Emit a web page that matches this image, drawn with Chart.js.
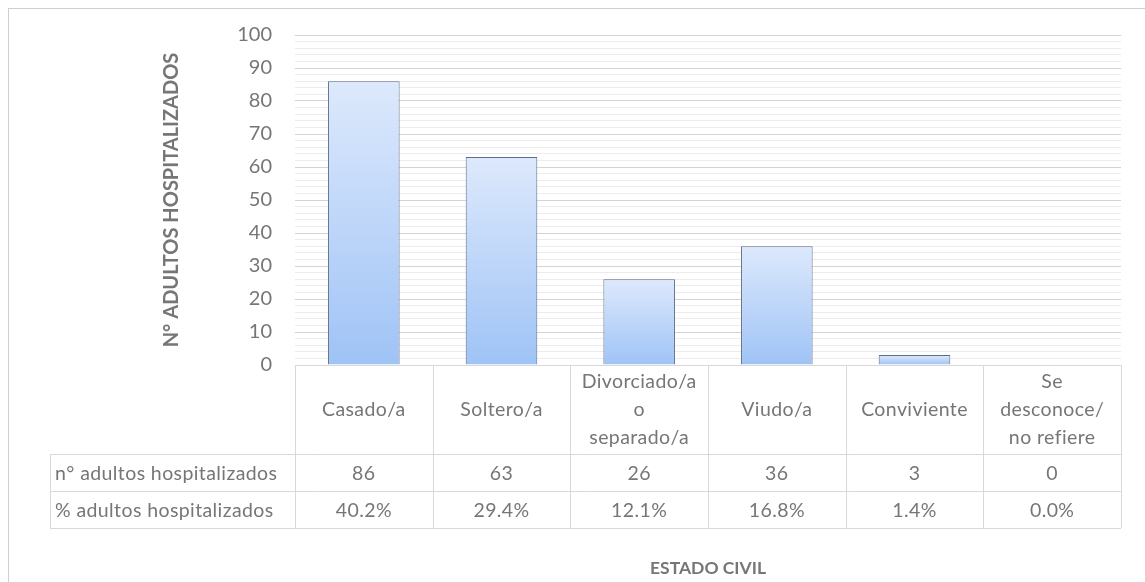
<!DOCTYPE html>
<html>
<head>
<meta charset="utf-8">
<script src="https://cdn.jsdelivr.net/npm/chart.js@4.4.1/dist/chart.umd.min.js"></script>
<style>
  html, body { margin: 0; padding: 0; background: #fff; }
  #wrap { width: 1145px; height: 582px; position: relative; }
</style>
</head>
<body>
<div id="wrap"><canvas id="estadoChart"></canvas></div>
<script>
// datos
const categorias = [
    ['Casado/a'],
    ['Soltero/a'],
    ['Divorciado/a', 'o', 'separado/a'],
    ['Viudo/a'],
    ['Conviviente'],
    ['Se', 'desconoce/', 'no refiere']
];
const nAdultos = [86, 63, 26, 36, 3, 0];
const pctAdultos = ['40.2%', '29.4%', '12.1%', '16.8%', '1.4%', '0.0%'];
const filaNombres = ['n° adultos hospitalizados', '% adultos hospitalizados'];
const yTicks = [0, 10, 20, 30, 40, 50, 60, 70, 80, 90, 100];

const FONT = 'Lato, "Open Sans", sans-serif';
const GRIS = '#767676';

// tabla de datos + marco
const tablaPlugin = {
    id: 'tabla',
    afterDraw(chart) {
        const ctx = chart.ctx;
        const x = chart.scales.x;
        const area = chart.chartArea;
        const colW = (x.getPixelForValue(1) - x.getPixelForValue(0));
        const left = area.left;
        const right = x.getPixelForValue(categorias.length - 1) + colW / 2;
        const tablaIzq = 50;
        const y0 = area.bottom;
        const y1 = y0 + 89;
        const y2 = y1 + 37;
        const y3 = y2 + 37;

        ctx.save();
        ctx.strokeStyle = '#d9d9d9';
        ctx.lineWidth = 1;
        ctx.beginPath();
        [y1, y2, y3].forEach(yy => {
            ctx.moveTo(tablaIzq, Math.round(yy) + 0.5);
            ctx.lineTo(right, Math.round(yy) + 0.5);
        });
        ctx.moveTo(left, Math.round(y0) + 0.5);
        ctx.lineTo(right, Math.round(y0) + 0.5);
        ctx.moveTo(tablaIzq + 0.5, y1);
        ctx.lineTo(tablaIzq + 0.5, y3);
        for (let i = 0; i <= categorias.length; i++) {
            const xx = Math.round(x.getPixelForValue(i) - colW / 2) + 0.5;
            ctx.moveTo(xx, y0);
            ctx.lineTo(xx, y3);
        }
        ctx.stroke();

        ctx.fillStyle = GRIS;
        ctx.font = '19.5px ' + FONT;
        ctx.letterSpacing = '0.4px';
        ctx.textAlign = 'center';
        ctx.textBaseline = 'middle';
        categorias.forEach((lineas, i) => {
            const cx = x.getPixelForValue(i);
            const lh = 28;
            const inicio = (y0 + y1) / 2 - (lineas.length - 1) * lh / 2;
            lineas.forEach((t, k) => ctx.fillText(t, cx, inicio + k * lh));
            ctx.fillText(String(nAdultos[i]), cx, (y1 + y2) / 2 + 1);
            ctx.fillText(pctAdultos[i], cx, (y2 + y3) / 2 + 1);
        });
        ctx.textAlign = 'left';
        ctx.fillText(filaNombres[0], tablaIzq + 5, (y1 + y2) / 2 + 1);
        ctx.fillText(filaNombres[1], tablaIzq + 5, (y2 + y3) / 2 + 1);

        // titulo eje x
        ctx.font = 'bold 17.5px ' + FONT;
        ctx.letterSpacing = '0px';
        ctx.textAlign = 'center';
        ctx.fillText('ESTADO CIVIL', (left + right) / 2, 568);

        // marco exterior
        ctx.strokeStyle = '#c9d1d3';
        ctx.strokeRect(8.5, 8.5, 1160, 600);
        ctx.restore();
    }
};

function degradado(context) {
    const chart = context.chart;
    const y = chart.scales.y;
    if (!chart.chartArea || !y || context.type !== 'data') return '#bcd5f8';
    const v = context.raw || 0;
    const top = y.getPixelForValue(v);
    const base = y.getPixelForValue(0);
    if (base - top < 1) return '#bcd5f8';
    const g = chart.ctx.createLinearGradient(0, top, 0, base);
    g.addColorStop(0, '#dde9fc');
    g.addColorStop(1, '#9fc3f6');
    return g;
}

const ctx = document.getElementById('estadoChart').getContext('2d');
new Chart(ctx, {
    type: 'bar',
    data: {
        labels: categorias.map(c => c.join(' ')),
        datasets: [{
            label: filaNombres[0],
            data: nAdultos,
            backgroundColor: degradado,
            borderColor: '#5b6d87',
            borderWidth: 1,
            borderSkipped: 'bottom',
            barPercentage: 0.52,
            categoryPercentage: 1
        }]
    },
    plugins: [tablaPlugin],
    options: {
        responsive: true,
        maintainAspectRatio: false,
        animation: false,
        layout: { padding: { left: 160, right: 24, top: 35, bottom: 209 } },
        plugins: {
            legend: { display: false },
            tooltip: { enabled: false }
        },
        scales: {
            x: {
                ticks: { display: false },
                grid: { display: false },
                border: { display: false }
            },
            y: {
                min: 0,
                max: 100,
                afterFit(scale) { scale.width = 135; },
                ticks: {
                    stepSize: 2,
                    autoSkip: false,
                    padding: 23,
                    color: GRIS,
                    font: { family: FONT, size: 20 },
                    callback: v => yTicks.includes(v) ? String(v) : ''
                },
                grid: {
                    drawTicks: false,
                    color: c => (c.tick && c.tick.value % 10 === 0) ? '#d4d4d4' : '#ececec'
                },
                border: { display: false },
                title: {
                    display: true,
                    text: 'N° ADULTOS HOSPITALIZADOS',
                    color: GRIS,
                    font: { family: FONT, size: 20, weight: 'bold' },
                    padding: { top: 0, bottom: 0 }
                }
            }
        }
    }
});
</script>
</body>
</html>
